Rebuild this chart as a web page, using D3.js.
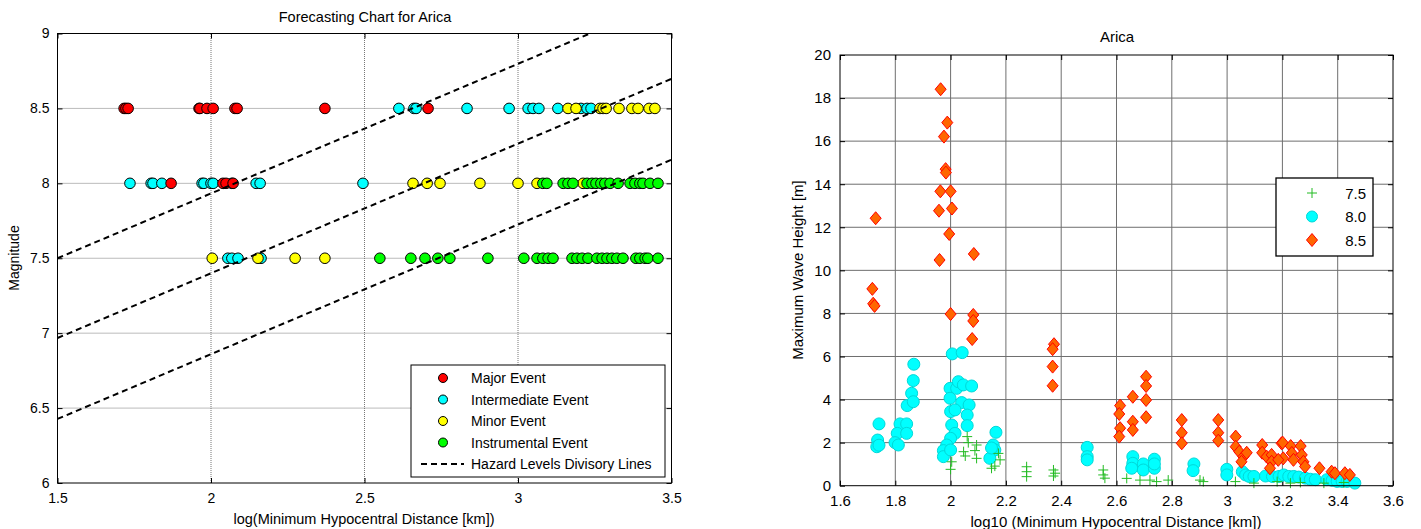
<!DOCTYPE html>
<html>
<head>
<meta charset="utf-8">
<script src="https://cdn.jsdelivr.net/npm/d3@7"></script>
<style>
  body { margin: 0; background: #fff; }
  text { font-family: "Liberation Sans", Arial, sans-serif; fill: #000; }
</style>
</head>
<body>
<div id="chart"></div>
<script>
// ---- left chart data: log10 distance per magnitude row ----
const major85 = [1.717, 1.723, 1.730, 1.961, 1.964, 1.987, 2.007, 2.078, 2.085, 2.371, 2.707]
const major80 = [1.870, 2.039, 2.049, 2.072]
const inter85 = [2.612, 2.661, 2.668, 2.834, 2.971, 3.033, 3.049, 3.068, 3.130, 3.205, 3.225, 3.238]
const inter80 = [1.736, 1.805, 1.811, 1.840, 1.971, 1.977, 2.000, 2.007, 2.068, 2.147, 2.160, 2.495]
const inter75 = [2.055, 2.068, 2.088, 2.163]
const minor85 = [3.163, 3.189, 3.267, 3.277, 3.287, 3.329, 3.371, 3.391, 3.427, 3.446]
const minor80 = [2.658, 2.704, 2.746, 2.876, 3.000, 3.062, 3.212]
const minor75 = [2.004, 2.153, 2.274, 2.371]
const instr80 = [3.081, 3.094, 3.147, 3.163, 3.179, 3.225, 3.241, 3.254, 3.270, 3.283, 3.300, 3.326, 3.365, 3.381, 3.397, 3.407, 3.430, 3.456]
const instr75 = [2.550, 2.651, 2.697, 2.739, 2.778, 2.902, 3.019, 3.062, 3.081, 3.098, 3.114, 3.176, 3.192, 3.209, 3.228, 3.257, 3.274, 3.290, 3.306, 3.322, 3.342, 3.384, 3.397, 3.414, 3.423, 3.456]
const hazardSlope = 0.865
const hazardIntercepts = [6.2025, 5.67, 5.13]
const leftXTicks = [1.5, 2, 2.5, 3, 3.5]
const leftYTicks = [6, 6.5, 7, 7.5, 8, 8.5, 9]
const leftLegend = ["Major Event", "Intermediate Event", "Minor Event", "Instrumental Event", "Hazard Levels Divisory Lines"]

// ---- right chart data: [log10 distance, max wave height] ----
const wave75 = [[2.060,2.28],[2.064,2.0],[2.094,1.89],[2.088,1.63],[2.047,1.58],[2.053,1.38],[2.004,1.11],[2.000,0.76],[2.094,1.27],[2.173,1.50],[2.179,1.20],[2.160,0.91],[2.148,0.81],[2.275,0.88],[2.275,0.65],[2.275,0.42],[2.372,0.73],[2.378,0.58],[2.372,0.45],[2.552,0.73],[2.552,0.50],[2.558,0.35],[2.637,0.34],[2.685,0.26],[2.721,0.26],[2.745,0.19],[2.787,0.26],[2.902,0.26],[2.914,0.19],[3.030,0.19],[3.097,0.12],[3.181,0.19],[3.229,0.12],[3.265,0.15],[3.350,0.12],[3.422,0.15]]
const wave80 = [[1.741,2.87],[1.736,2.12],[1.733,1.81],[1.741,1.88],[1.817,2.87],[1.807,2.43],[1.799,2.00],[1.811,1.89],[1.841,2.87],[1.841,2.43],[1.843,3.72],[1.859,4.29],[1.865,3.90],[1.865,4.88],[1.867,5.64],[2.006,6.12],[2.042,6.18],[1.998,4.52],[2.022,4.52],[2.028,4.83],[2.046,4.68],[2.076,4.63],[1.998,4.06],[2.040,3.86],[2.067,3.75],[2.000,3.44],[2.016,3.52],[2.060,3.28],[2.060,2.79],[2.004,2.82],[2.016,2.43],[2.000,2.20],[1.986,1.89],[1.974,1.63],[1.974,1.35],[2.000,1.66],[2.164,2.48],[2.154,1.89],[2.160,1.66],[2.142,1.27],[2.148,1.75],[2.494,1.78],[2.494,1.35],[2.494,1.20],[2.659,1.35],[2.659,1.04],[2.655,0.81],[2.697,1.01],[2.697,0.73],[2.737,1.23],[2.737,0.81],[2.737,1.01],[2.880,1.01],[2.877,0.70],[2.999,0.76],[2.999,0.50],[3.055,0.65],[3.067,0.50],[3.080,0.43],[3.097,0.43],[3.139,0.45],[3.164,0.43],[3.188,0.43],[3.205,0.50],[3.223,0.43],[3.241,0.43],[3.259,0.40],[3.283,0.35],[3.301,0.30],[3.319,0.28],[3.361,0.28],[3.380,0.25],[3.398,0.20],[3.416,0.20],[3.434,0.20],[3.462,0.12]]
const wave85 = [[1.964,18.41],[1.988,16.86],[1.976,16.21],[1.982,14.70],[1.983,14.54],[1.963,13.67],[2.000,13.67],[1.958,12.77],[2.005,12.87],[1.729,12.42],[1.995,11.69],[2.084,10.76],[1.960,10.48],[1.717,9.14],[1.720,8.45],[1.725,8.35],[2.000,7.97],[2.082,7.93],[2.082,7.65],[2.078,6.81],[2.374,6.57],[2.369,6.34],[2.369,5.53],[2.369,4.64],[2.613,3.72],[2.610,3.33],[2.613,2.67],[2.610,2.28],[2.659,4.13],[2.659,2.97],[2.659,2.59],[2.707,5.06],[2.707,4.63],[2.707,3.98],[2.707,3.18],[2.836,3.05],[2.836,2.46],[2.836,1.97],[2.968,3.05],[2.968,2.46],[2.968,2.09],[3.031,2.28],[3.031,1.81],[3.044,1.58],[3.059,1.35],[3.071,1.53],[3.052,1.11],[3.127,1.89],[3.127,1.53],[3.143,1.35],[3.161,1.43],[3.161,1.11],[3.155,0.81],[3.197,1.97],[3.201,2.00],[3.203,1.27],[3.185,1.20],[3.230,1.84],[3.234,1.52],[3.240,1.20],[3.266,1.84],[3.270,1.43],[3.276,1.11],[3.282,0.89],[3.334,0.81],[3.378,0.65],[3.390,0.58],[3.426,0.58],[3.444,0.50]]
const rightXTicks = [1.6, 1.8, 2, 2.2, 2.4, 2.6, 2.8, 3, 3.2, 3.4, 3.6]
const rightYTicks = [0, 2, 4, 6, 8, 10, 12, 14, 16, 18, 20]
const rightLegend = ["7.5", "8.0", "8.5"]

const svg = d3.select("#chart").append("svg")
    .attr("width", 1421)
    .attr("height", 529)

// ================= left chart =================
const x1 = d3.scaleLinear().domain([1.5, 3.5]).range([57.5, 671.5])
const y1 = d3.scaleLinear().domain([6, 9]).range([483, 33.5])
const g1 = svg.append("g")

g1.append("rect").attr("x", 57.5).attr("y", 33.5).attr("width", 614).attr("height", 449.5).attr("fill", "#fff")

// dotted grid
g1.selectAll(".vgrid").data(leftXTicks.slice(1, -1)).enter().append("line")
    .attr("x1", d => x1(d)).attr("x2", d => x1(d)).attr("y1", y1(6)).attr("y2", y1(9))
    .attr("stroke", "#777").attr("stroke-dasharray", "1,1")
g1.selectAll(".hgrid").data(leftYTicks.slice(1, -1)).enter().append("line")
    .attr("y1", d => y1(d)).attr("y2", d => y1(d)).attr("x1", x1(1.5)).attr("x2", x1(3.5))
    .attr("stroke", "#777").attr("stroke-dasharray", "1,1")

const leftAxisStyle = (sel) => {
    sel.select(".domain").remove()
    sel.selectAll("text").style("font-size", "14px").style("font-family", "Liberation Sans, Arial, sans-serif")
}
g1.append("g").attr("transform", `translate(0,${y1(6)})`)
    .call(d3.axisBottom(x1).tickValues(leftXTicks).tickFormat(d3.format("")).tickSizeInner(-5).tickSizeOuter(0).tickPadding(10))
    .call(leftAxisStyle)
g1.append("g").attr("transform", `translate(${x1(1.5)},0)`)
    .call(d3.axisLeft(y1).tickValues(leftYTicks).tickFormat(d3.format("")).tickSizeInner(-5).tickSizeOuter(0).tickPadding(8))
    .call(leftAxisStyle)
g1.append("g").attr("transform", `translate(0,${y1(9)})`)
    .call(d3.axisTop(x1).tickValues(leftXTicks).tickFormat("").tickSizeInner(-5).tickSizeOuter(0))
    .call(leftAxisStyle)
g1.append("g").attr("transform", `translate(${x1(3.5)},0)`)
    .call(d3.axisRight(y1).tickValues(leftYTicks).tickFormat("").tickSizeInner(-5).tickSizeOuter(0))
    .call(leftAxisStyle)

// points
const rows = [
    { xs: inter85, m: 8.5, c: "#00ffff" }, { xs: inter80, m: 8.0, c: "#00ffff" }, { xs: inter75, m: 7.5, c: "#00ffff" },
    { xs: major85, m: 8.5, c: "#ff0000" }, { xs: major80, m: 8.0, c: "#ff0000" },
    { xs: minor85, m: 8.5, c: "#ffff00" }, { xs: minor80, m: 8.0, c: "#ffff00" }, { xs: minor75, m: 7.5, c: "#ffff00" },
    { xs: instr80, m: 8.0, c: "#00ff00" }, { xs: instr75, m: 7.5, c: "#00ff00" }
]
rows.forEach(r => {
    g1.selectAll(null).data(r.xs).enter().append("circle")
        .attr("cx", d => x1(d)).attr("cy", y1(r.m)).attr("r", 5.3)
        .attr("fill", r.c).attr("stroke", "#000").attr("stroke-width", 1)
})

// hazard lines, clipped to the axes
svg.append("clipPath").attr("id", "clipL").append("rect")
    .attr("x", 57.5).attr("y", 33.5).attr("width", 614).attr("height", 449.5)
g1.append("g").attr("clip-path", "url(#clipL)")
    .selectAll("line").data(hazardIntercepts).enter().append("line")
    .attr("x1", x1(1.5)).attr("y1", d => y1(d + hazardSlope * 1.5))
    .attr("x2", x1(3.5)).attr("y2", d => y1(d + hazardSlope * 3.5))
    .attr("stroke", "#000").attr("stroke-width", 2).attr("stroke-dasharray", "6,4")

g1.append("rect").attr("x", 57.5).attr("y", 33.5).attr("width", 614).attr("height", 449.5)
    .attr("fill", "none").attr("stroke", "#000").attr("stroke-width", 1)

// legend
const leg1 = g1.append("g")
leg1.append("rect").attr("x", 411).attr("y", 365).attr("width", 254).attr("height", 112)
    .attr("fill", "#fff").attr("stroke", "#000")
const legColors = ["#ff0000", "#00ffff", "#ffff00", "#00ff00"]
leftLegend.forEach((t, i) => {
    const yy = 378 + i * 21.5
    if (i < 4) {
        leg1.append("circle").attr("cx", 443).attr("cy", yy).attr("r", 4.5)
            .attr("fill", legColors[i]).attr("stroke", "#000")
    } else {
        leg1.append("line").attr("x1", 421).attr("x2", 464).attr("y1", yy).attr("y2", yy)
            .attr("stroke", "#000").attr("stroke-width", 2).attr("stroke-dasharray", "6,4")
    }
    leg1.append("text").attr("x", 471).attr("y", yy + 5).style("font-size", "14px").text(t)
})

g1.append("text").attr("x", 365).attr("y", 22).attr("text-anchor", "middle").style("font-size", "14.5px")
    .text("Forecasting Chart for Arica")
g1.append("text").attr("x", 364).attr("y", 524).attr("text-anchor", "middle").style("font-size", "14.5px")
    .text("log(Minimum Hypocentral Distance [km])")
g1.append("text").attr("transform", "translate(19,258) rotate(-90)").attr("text-anchor", "middle").style("font-size", "14px")
    .text("Magnitude")

// ================= right chart =================
const x2 = d3.scaleLinear().domain([1.6, 3.6]).range([840, 1393])
const y2 = d3.scaleLinear().domain([0, 20]).range([485.7, 55])
const g2 = svg.append("g")

g2.selectAll(".vgrid").data(rightXTicks.slice(1, -1)).enter().append("line")
    .attr("x1", d => x2(d)).attr("x2", d => x2(d)).attr("y1", y2(0)).attr("y2", y2(20))
    .attr("stroke", "#6e6e6e")
g2.selectAll(".hgrid").data(rightYTicks.slice(1, -1)).enter().append("line")
    .attr("y1", d => y2(d)).attr("y2", d => y2(d)).attr("x1", x2(1.6)).attr("x2", x2(3.6))
    .attr("stroke", "#6e6e6e")

const rightAxisStyle = (sel) => {
    sel.select(".domain").remove()
    sel.selectAll("text").style("font-size", "15px").style("font-family", "Liberation Sans, Arial, sans-serif")
}
g2.append("g").attr("transform", `translate(0,${y2(0)})`)
    .call(d3.axisBottom(x2).tickValues(rightXTicks).tickFormat(d3.format("")).tickSizeInner(-5).tickSizeOuter(0).tickPadding(10))
    .call(rightAxisStyle)
g2.append("g").attr("transform", `translate(${x2(1.6)},0)`)
    .call(d3.axisLeft(y2).tickValues(rightYTicks).tickFormat(d3.format("")).tickSizeInner(-5).tickSizeOuter(0).tickPadding(9))
    .call(rightAxisStyle)
g2.append("g").attr("transform", `translate(0,${y2(20)})`)
    .call(d3.axisTop(x2).tickValues(rightXTicks).tickFormat("").tickSizeInner(-5).tickSizeOuter(0))
    .call(rightAxisStyle)
g2.append("g").attr("transform", `translate(${x2(3.6)},0)`)
    .call(d3.axisRight(y2).tickValues(rightYTicks).tickFormat("").tickSizeInner(-5).tickSizeOuter(0))
    .call(rightAxisStyle)

const plusPath = "M-5,0L5,0M0,-5L0,5"
const diamondPath = "M0,-6.5L5.5,0L0,6.5L-5.5,0Z"

g2.selectAll(".c80").data(wave80).enter().append("circle")
    .attr("cx", d => x2(d[0])).attr("cy", d => y2(d[1])).attr("r", 6)
    .attr("fill", "#00ffff").attr("stroke", "#00d8d8").attr("stroke-width", 1)
g2.selectAll(".p75").data(wave75).enter().append("path")
    .attr("transform", d => `translate(${x2(d[0])},${y2(d[1])})`).attr("d", plusPath)
    .attr("fill", "none").attr("stroke", "#22bb22").attr("stroke-width", 1)
g2.selectAll(".d85").data(wave85).enter().append("path")
    .attr("transform", d => `translate(${x2(d[0])},${y2(d[1])})`).attr("d", diamondPath)
    .attr("fill", "#ff6600").attr("stroke", "#ff0000").attr("stroke-width", 1)

g2.append("rect").attr("x", 840).attr("y", 55).attr("width", 553).attr("height", 430.7)
    .attr("fill", "none").attr("stroke", "#000").attr("stroke-width", 1)

// legend
const leg2 = g2.append("g")
leg2.append("rect").attr("x", 1276).attr("y", 178).attr("width", 97).attr("height", 78)
    .attr("fill", "#fff").attr("stroke", "#000").attr("stroke-width", 1.3)
rightLegend.forEach((t, i) => {
    const yy = 193 + i * 23.5
    if (i === 0) {
        leg2.append("path").attr("transform", `translate(1312,${yy})`).attr("d", plusPath)
            .attr("fill", "none").attr("stroke", "#22bb22")
    } else if (i === 1) {
        leg2.append("circle").attr("cx", 1312).attr("cy", yy).attr("r", 5.5)
            .attr("fill", "#00ffff").attr("stroke", "#00d8d8")
    } else {
        leg2.append("path").attr("transform", `translate(1312,${yy})`).attr("d", diamondPath)
            .attr("fill", "#ff6600").attr("stroke", "#ff0000")
    }
    leg2.append("text").attr("x", 1366).attr("y", yy + 5.5).attr("text-anchor", "end").style("font-size", "15px").text(t)
})

g2.append("text").attr("x", 1117).attr("y", 42).attr("text-anchor", "middle").style("font-size", "15px").text("Arica")
g2.append("text").attr("x", 1116).attr("y", 527).attr("text-anchor", "middle").style("font-size", "15px")
    .text("log10 (Minimum Hypocentral Distance [km])")
g2.append("text").attr("transform", "translate(803,270) rotate(-90)").attr("text-anchor", "middle").style("font-size", "15px")
    .text("Maximum Wave Height [m]")
</script>
</body>
</html>
